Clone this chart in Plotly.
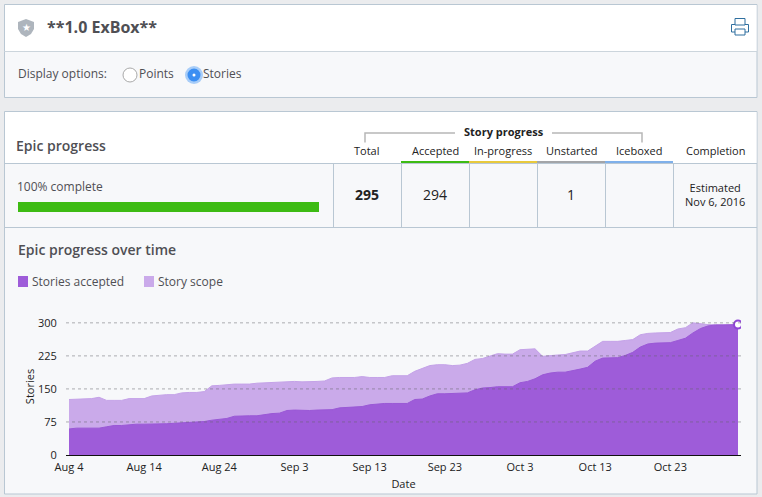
import pandas as pd
import plotly.graph_objects as go

# Values, one per day
accepted = [59, 61, 61, 61, 61, 64, 67, 67, 69, 70, 70, 70, 71, 71, 72, 73, 74, 74, 76, 79, 81, 83, 88, 89, 89, 89, 92, 94, 95, 101, 102,
            101, 101, 102, 102, 103, 107, 108, 108, 110, 114, 116, 117, 117, 117, 117, 126, 127, 134, 139, 139, 140, 140, 141, 148, 152, 153, 155, 155, 155, 164,
            167, 173, 182, 186, 188, 188, 191, 195, 199, 213, 220, 221, 221, 226, 233, 245, 252, 254, 255, 255, 260, 265, 277, 287, 293, 295, 295, 295, 296]
scope = [126, 127, 128, 128, 131, 124, 124, 124, 128, 128, 128, 134, 136, 137, 137, 141, 142, 142, 144, 157, 158, 160, 161, 161, 161, 163, 164, 164, 166, 166, 167,
         166, 166, 167, 168, 175, 176, 176, 176, 178, 176, 176, 176, 180, 180, 180, 190, 197, 203, 205, 205, 203, 204, 208, 217, 219, 225, 230, 229, 229, 239,
         240, 241, 224, 226, 227, 228, 232, 236, 236, 247, 258, 258, 258, 260, 262, 273, 276, 277, 277, 278, 286, 289, 300, 298, 296, 296, 296, 296, 296]
dates = pd.date_range("2016-08-04", periods=len(accepted))

# Axis ticks
x_ticks = ["2016-08-04", "2016-08-14", "2016-08-24", "2016-09-03", "2016-09-13", "2016-09-23", "2016-10-03", "2016-10-13", "2016-10-23"]
x_labels = ["Aug 4", "Aug 14", "Aug 24", "Sep 3", "Sep 13", "Sep 23", "Oct 3", "Oct 13", "Oct 23"]
y_ticks = [0, 75, 150, 225, 300]

# Table texts
column_names = ["Total", "Accepted", "In-progress", "Unstarted", "Iceboxed", "Completion"]
column_values = ["295", "294", "", "1", "", "Estimated<br>Nov 6, 2016"]

# Window size in pixels, the page furniture below is placed in these
W = 762
H = 497
BORDER = "#b9c7d3"
PANEL = "#f7f8fa"
TEXT = "#4f4f54"
FONT = "Open Sans"


def px(x):
    return x / W


def py(y):
    return 1 - y / H


def box(x0, y0, x1, y1, fill=None, line=None, width=1, kind="rect"):
    fig.add_shape(
        type=kind, xref="paper", yref="paper", layer="below",
        x0=px(x0), y0=py(y0), x1=px(x1), y1=py(y1),
        fillcolor=fill, line=dict(color=line, width=width if line else 0)
    )


def outline(points, fill=None, line=None, width=1, closed=True):
    path = "M " + " L ".join(f"{px(a):.5f} {py(b):.5f}" for a, b in points)
    fig.add_shape(
        type="path", xref="paper", yref="paper", layer="below",
        path=path + (" Z" if closed else ""),
        fillcolor=fill, line=dict(color=line, width=width if line else 0)
    )


def label(x, y, text, size=11, color="#222222", anchor="left", weight=400):
    fig.add_annotation(
        xref="paper", yref="paper", x=px(x), y=py(y - 1), text=text,
        showarrow=False, xanchor=anchor, yanchor="middle", align="center",
        borderpad=0, borderwidth=0,
        font=dict(family=FONT, size=size, color=color, weight=weight)
    )


# Create a Plotly figure
fig = go.Figure()

# Add one filled trace for each series
fig.add_trace(go.Scatter(
    x=dates, y=scope,
    mode='lines', name='Story scope',
    line=dict(color='#c4a2e8', width=1),
    fill='tozeroy', fillcolor='#caaaea'
))

fig.add_trace(go.Scatter(
    x=dates, y=accepted,
    mode='lines', name='Stories accepted',
    line=dict(color='#9a58d6', width=1),
    fill='tozeroy', fillcolor='#9e5cd9'
))

# Open dot on the last day
fig.add_trace(go.Scatter(
    x=dates[-1:], y=accepted[-1:],
    mode='markers', name='Latest',
    marker=dict(color='white', size=8, line=dict(color='#8f45d6', width=2))
))

# Dashed grid sits on top of the areas
for tick in y_ticks[1:]:
    fig.add_hline(y=tick, layer="above", line=dict(color="rgba(100,100,105,0.5)", width=1, dash="3px,3px"))

# Panels
box(4.5, 4.5, 757, 97.5, PANEL, BORDER)
box(5, 5, 756.5, 51.5, "white", None)
box(4.5, 51.5, 757, 51.5, None, "#ccd5dc")
box(4.5, 111.5, 757, 494, PANEL, BORDER)
box(5, 112, 756.5, 163.5, "white", None)
box(4.5, 163.5, 757, 163.5, None, BORDER)
box(4.5, 227.5, 757, 227.5, None, BORDER)
for x in [333.5, 401.5, 469.5, 537.5, 605.5, 673.5]:
    box(x, 163.5, x, 227.5, None, BORDER)

# Colour bars above the table columns
box(401, 161, 469, 163, "#3dbb13", None)
box(469, 161, 537, 163, "#e8c93c", None)
box(537, 161, 605, 163, "#a3a5a8", None)
box(605, 161, 673, 163, "#7fb0ea", None)

# Bracket around story progress
outline([(365, 142.5), (365, 133), (455, 133)], line="#b7b7b7", width=1.5, closed=False)
outline([(552, 133), (642, 133), (642, 142.5)], line="#b7b7b7", width=1.5, closed=False)

# Progress bar
box(18, 202, 319, 212, "#3dbb13", None)

# Shield icon
outline([(18, 22), (26, 19), (34, 22), (34, 29), (31, 34), (26, 37), (21, 34), (18, 29)], fill="#aeb5bd")
label(26, 28.5, "★", size=10, color="white", anchor="center")

# Printer icon
box(731.5, 24.5, 748.5, 32, "white", "#2f6f9f", 1)
box(735, 18.5, 745, 25, "white", "#2f6f9f", 1)
box(735, 29, 745, 35, "white", "#2f6f9f", 1)

# Radio buttons
box(123, 68, 137, 82, "white", "#a9a9a9", kind="circle")
box(185, 66, 203, 84, "#a8cdf8", None, kind="circle")
box(187.5, 68.5, 200.5, 81.5, "#3c8ff2", None, kind="circle")
box(192.5, 73.5, 195.5, 76.5, "white", None, kind="circle")

# Legend swatches
box(18, 276, 28, 287, "#9e5cd9", None)
box(144, 276, 154, 287, "#caaaea", None)

# Texts
label(47, 28, "**1.0 ExBox**", size=16, color=TEXT, weight=700)
label(18, 75, "Display options:", size=12, color=TEXT, weight=500)
label(139, 75, "Points", size=12, color=TEXT)
label(203, 75, "Stories", size=12, color=TEXT)
label(16, 146, "Epic progress", size=14, color=TEXT, weight=600)
label(503.5, 133, "Story progress", size=11, color="#222222", anchor="center", weight=700)
for x, name, value in zip([367, 435, 503, 571, 639, 715], column_names, column_values):
    label(x, 151, name, size=11, anchor="center")
    if name == "Total":
        label(x, 195, value, size=14, anchor="center", weight=700)
    elif name == "Completion":
        label(x, 195, value, size=11, anchor="center")
    elif value:
        label(x, 195, value, size=14, anchor="center")
label(17, 187, "100% complete", size=12, color=TEXT, weight=500)
label(18, 251, "Epic progress over time", size=14, color=TEXT, weight=600)
label(32, 282, "Stories accepted", size=12, color=TEXT)
label(158, 282, "Story scope", size=12, color=TEXT)

# Customise the layout
fig.update_layout(
    width=W,
    height=H,
    margin=dict(l=0, r=0, t=0, b=0, autoexpand=False),  # keep the page coordinates fixed
    paper_bgcolor="#ebecee",
    plot_bgcolor="rgba(0,0,0,0)",
    showlegend=False,
    font=dict(family=FONT, size=11, color="#222222"),
    xaxis=dict(
        domain=[px(66), px(741)],
        range=["2016-08-03 14:24", "2016-11-01 09:36"],
        tickvals=x_ticks, ticktext=x_labels,
        ticks="outside", ticklen=2, tickcolor="rgba(0,0,0,0)",
        showgrid=False, zeroline=False,
        showline=True, linecolor="#111111", linewidth=1,
        title=dict(text="Date", standoff=7, font=dict(size=11))
    ),
    yaxis=dict(
        domain=[py(455), py(318)],
        range=[0, 311],
        tickvals=y_ticks,
        ticks="outside", ticklen=6, tickcolor="rgba(0,0,0,0)",
        showgrid=False, zeroline=False, showline=False,
        title=dict(text="Stories", standoff=1, font=dict(size=11))
    )
)

# Write the page, without the default margin of the browser
fig.write_html("out.html", config=dict(displayModeBar=False), post_script="document.body.style.margin='0';")
